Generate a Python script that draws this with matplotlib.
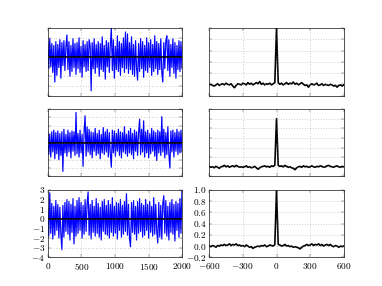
import matplotlib
matplotlib.use("Agg")
import matplotlib.pyplot as plt
import numpy as np

plt.style.use("classic")
plt.rcParams["font.family"] = "serif"
plt.rcParams["font.serif"] = ["cmr10"]
plt.rcParams["mathtext.fontset"] = "cm"
plt.rcParams["axes.formatter.use_mathtext"] = True
plt.rcParams["font.size"] = 14

# signal samples (every 15 samples, 0..1995)
top_signal = [1.5, -1.2, 1.9, -1.0, 1.4, -1.6, 1.2, -2.6, 1.6, -1.9,
              1.3, -1.1, 1.8, -2.2, 1.5, -0.9, 1.7, -1.4, 1.1, 2.3,
              -1.3, 1.6, -2.0, 1.2, -1.5, 1.9, -1.1, 1.4, -1.8, 1.5,
              -1.2, 2.0, -1.6, 1.1, -2.1, 1.7, -1.0, 1.3, -1.5, 1.6,
              -1.4, 1.8, 1.2, -3.5, 1.5, -1.2, 1.9, -1.7, 1.3, -1.1,
              1.6, -2.0, 1.4, -1.3, 2.1, -1.5, 1.2, -2.3, 1.7, -1.0,
              1.5, -1.6, 1.3, 3.0, -1.4, 1.8, -2.2, 1.1, -1.3, 2.2,
              -1.5, 1.6, -1.9, 1.4, -1.1, 2.0, -1.6, 2.6, -1.2, 2.4,
              -1.7, 1.5, -1.3, 2.1, -1.8, 1.3, -2.0, 1.7, -1.1, -2.4,
              1.4, -1.5, 1.9, -1.2, 1.6, -2.1, 1.2, -1.4, 2.0, -1.6,
              1.5, -1.1, 1.8, -1.9, 1.3, -1.5, 2.2, -1.2, 1.6, -1.8,
              1.4, -1.3, 1.9, -1.6, -2.6, 1.5, -1.2, 1.7, 2.2, -1.4,
              1.8, -2.0, 1.3, -1.1, 1.9, -1.7, 1.5, -2.2, 1.2, -1.3,
              1.7, -1.5, 1.6, -1.2]

mid_signal = [1.2, -1.4, 1.0, -1.7, 1.3, -1.1, 1.5, -1.9, 1.2, -1.3,
              1.4, -2.0, 1.1, -1.5, 1.3, -3.4, 1.6, -1.2, 1.0, -1.6,
              1.5, -1.1, 1.2, -1.8, 1.4, -1.0, 1.3, -1.5, 3.6, -1.3,
              1.1, -1.7, 1.5, -1.2, 1.0, -2.8, 1.4, 3.2, -1.6, 1.9,
              -1.1, 1.6, -1.4, 1.3, -1.8, 1.2, -1.0, 1.7, -1.5, 1.1,
              -1.3, 1.5, -1.9, 1.0, -1.2, 1.8, -1.4, 1.3, -1.1, 1.6,
              -1.7, 1.2, -1.3, -2.9, 1.5, -1.2, 1.4, -1.6, 1.1, -1.0,
              1.6, -1.5, 1.3, -1.8, 1.2, -1.1, 1.9, -1.3, 1.0, -1.6,
              1.4, -1.2, 1.7, -1.4, 1.1, -1.9, 1.5, -1.0, 1.3, -1.5,
              1.2, 2.8, -1.4, 1.6, -1.1, 2.6, -1.7, 1.3, -1.2, 1.5,
              -1.8, 1.1, -1.3, 1.7, -1.0, 1.4, -1.6, 1.2, -2.1, 1.5,
              -1.2, 1.3, -1.5, 3.1, -1.1, 1.6, -1.8, 1.2, -1.4, 1.9,
              -1.3, -3.0, 1.4, -1.1, 1.5, -1.7, 1.2, -1.0, 1.6, -1.4,
              1.3, -1.2, 1.5, -1.1]

bot_signal = [1.0, -1.8, 2.7, -1.5, 1.6, -2.1, 1.3, -1.7, 1.9, -1.2,
              1.5, -2.0, 1.2, -1.6, -3.2, 1.4, -1.9, 1.7, -1.3, 2.0,
              -1.6, 1.8, -2.2, 1.5, -1.4, 2.1, -2.6, 1.3, -1.8, 1.9,
              -1.5, 2.2, -1.2, 1.7, -2.0, 1.4, -1.6, 2.0, -1.3, 1.6,
              2.8, -1.7, 1.5, -2.1, 1.9, -1.4, 1.3, -1.8, 2.1, -1.5,
              1.6, -1.9, 1.2, -2.2, 1.8, -1.3, 2.0, -1.6, 1.4, -1.7,
              1.9, -2.0, 1.5, -1.4, 2.2, -1.8, 1.3, -1.5, 1.7, -2.1,
              1.6, -1.2, 2.0, -1.9, 1.4, -1.6, 1.8, -1.3, 2.6, -1.7,
              1.5, -2.0, -2.9, 1.7, -1.4, 1.9, -1.6, 1.3, -2.2, 1.8,
              -1.5, 2.1, -1.3, 1.6, -1.9, 1.4, -1.7, 2.0, -1.2, 1.5,
              -2.0, 1.8, -1.4, 1.3, -1.8, 2.2, -1.6, 1.5, -1.3, -2.5,
              1.7, -1.9, 1.4, -2.1, 1.6, 2.4, -1.5, 1.9, -1.8, 1.3,
              -2.2, 1.7, -1.4, 2.0, -1.6, 1.5, -2.3, 1.8, -1.2, 1.6,
              -1.9, 2.1, -1.5, 3.0]

# autocorrelation (lags -600..600, step 15)
top_acorr = [-0.01, 0.00, -0.02, -0.03, -0.01, 0.01, -0.02, 0.00, 0.01, -0.01,
             0.02, 0.00, -0.01, 0.01, -0.03, -0.06, -0.02, 0.01, 0.00, -0.01,
             0.02, 0.01, -0.01, 0.03, 0.00, 0.02, -0.01, 0.01, 0.03, 0.01,
             0.05, 0.00, 0.02, -0.01, 0.01, 0.00, 0.02, -0.01, 0.01, 0.03,
             1.00,
             0.03, 0.00, 0.02, -0.01, 0.01, 0.03, 0.00, 0.02, 0.01, 0.04,
             0.00, 0.02, -0.01, 0.01, 0.03, 0.00, -0.02, -0.01, -0.05, -0.01,
             0.01, -0.01, 0.00, 0.02, -0.02, -0.01, 0.01, -0.02, 0.00, -0.01,
             -0.02, 0.00, -0.01, -0.03, -0.02, -0.05, -0.02, -0.01, -0.03, -0.01]

mid_acorr = [0.01, -0.01, 0.00, -0.02, 0.01, -0.01, -0.03, 0.00, 0.01, 0.03,
             0.00, 0.02, -0.01, 0.01, 0.02, 0.00, 0.03, 0.01, -0.01, 0.00,
             -0.01, 0.00, 0.02, -0.01, 0.00, -0.02, -0.01, 0.01, -0.02, -0.05,
             -0.02, 0.00, 0.01, 0.02, 0.00, 0.01, -0.01, 0.02, 0.01, 0.03,
             1.00,
             0.03, 0.01, 0.02, 0.00, 0.03, 0.01, -0.01, 0.00, -0.02, -0.03,
             -0.06, -0.02, 0.00, 0.01, -0.01, 0.02, 0.00, 0.01, -0.01, 0.00,
             0.02, 0.00, -0.01, 0.01, 0.00, 0.02, 0.01, -0.01, 0.00, 0.02,
             0.03, 0.01, 0.00, -0.01, 0.01, 0.02, 0.00, -0.01, 0.01, 0.00]

bot_acorr = [0.00, -0.01, 0.01, 0.00, -0.02, 0.01, 0.00, 0.02, 0.01, 0.03,
             0.01, 0.02, 0.04, 0.01, 0.03, 0.02, 0.04, 0.01, 0.02, 0.00,
             0.01, -0.01, 0.02, 0.00, -0.02, -0.01, -0.04, -0.02, -0.01, 0.00,
             -0.01, 0.01, 0.00, 0.02, -0.01, 0.00, 0.02, 0.01, 0.00, 0.03,
             1.00,
             0.03, 0.02, 0.00, 0.01, 0.03, 0.00, 0.01, -0.01, 0.00, -0.02,
             -0.01, -0.02, -0.03, -0.05, -0.02, 0.00, 0.01, 0.03, 0.01, 0.02,
             0.04, 0.01, 0.03, 0.02, 0.04, 0.01, 0.03, 0.00, 0.02, 0.03,
             0.01, 0.03, 0.00, -0.01, 0.01, 0.00, -0.02, 0.00, -0.01, 0.00]

signals = [top_signal, mid_signal, bot_signal]
acorrs = [top_acorr, mid_acorr, bot_acorr]
signal_ylims = [(-4, 3), (-4, 4), (-4, 3)]
acorr_ylims = [(-0.2, 1.0), (-0.2, 1.2), (-0.2, 1.0)]

fig, axes = plt.subplots(3, 2, figsize=(8, 6), facecolor="white")

for row in range(3):
    ax = axes[row, 0]
    t = np.arange(len(signals[row])) * 15
    ax.plot(t, signals[row], color="b", lw=1.8)
    ax.axhline(0, color="k", lw=2.5)
    ax.set_xlim(0, 2000)
    ax.set_ylim(*signal_ylims[row])
    ax.set_xticks([0, 500, 1000, 1500, 2000])
    ax.set_yticks(np.arange(signal_ylims[row][0], signal_ylims[row][1] + 1))
    ax.grid(True, color="0.5", ls=":", lw=0.8)

    ax2 = axes[row, 1]
    lags = np.arange(len(acorrs[row])) * 15 - 600
    ax2.plot(lags, acorrs[row], color="k", lw=2.5)
    ax2.set_xlim(-600, 600)
    ax2.set_ylim(*acorr_ylims[row])
    ax2.set_xticks([-600, -300, 0, 300, 600])
    ax2.set_yticks(np.arange(-0.2, acorr_ylims[row][1] + 0.01, 0.2))
    ax2.grid(True, color="0.5", ls=":", lw=0.8)

    if row < 2:
        for a in (ax, ax2):
            a.set_xticklabels([])
            a.set_yticklabels([])

axes[2, 1].set_yticklabels([r"$-0.2$", r"$0.0$", r"$0.2$", r"$0.4$",
                            r"$0.6$", r"$0.8$", r"$1.0$"])

plt.savefig("out.png", dpi=47.75, facecolor="white")
plt.close()
